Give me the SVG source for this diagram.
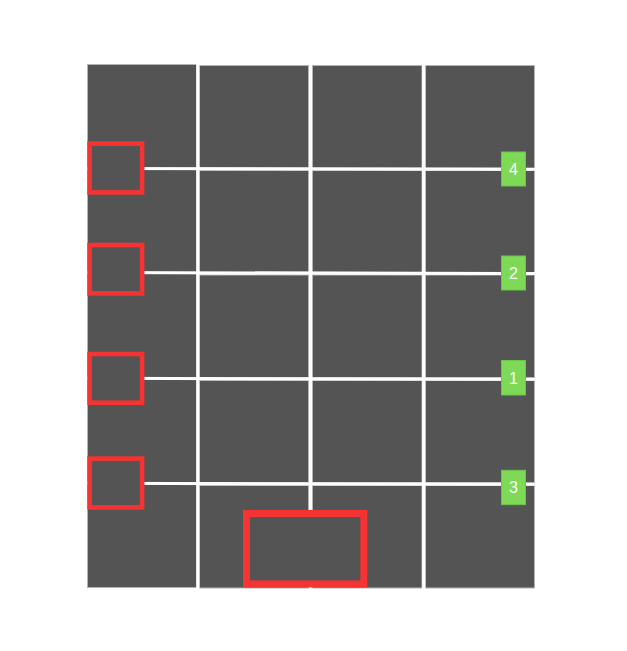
<svg xmlns="http://www.w3.org/2000/svg" width="627" height="651" viewBox="0 0 627 651">
<style>
.cell{fill:#545454;stroke:#b4b4b4;stroke-width:1}
.wl{stroke:#ffffff;stroke-width:3;fill:none}
.rb{fill:#545454;stroke:#f53333;stroke-width:4.6}
.gl{fill:#7ed957;stroke:#6cc54a;stroke-width:1}
.lt{font-family:"Liberation Sans",Arial,sans-serif;font-size:16px;fill:#ffffff;text-anchor:middle}
</style>
<rect width="627" height="651" fill="#ffffff"/>
<g id="grid">
<rect class="cell" x="87.5" y="64.5" width="109" height="523"/>
<rect class="cell" x="199.5" y="65.5" width="109" height="102.5"/>
<rect class="cell" x="312.5" y="65.5" width="109.5" height="102.5"/>
<rect class="cell" x="425.5" y="65.5" width="109" height="102.5"/>
<rect class="cell" x="199.5" y="170.5" width="109" height="102"/>
<rect class="cell" x="312.5" y="170.5" width="109.5" height="102"/>
<rect class="cell" x="425.5" y="170.5" width="109" height="102"/>
<rect class="cell" x="199.5" y="275" width="109" height="102.5"/>
<rect class="cell" x="312.5" y="275" width="109.5" height="102.5"/>
<rect class="cell" x="425.5" y="275" width="109" height="102.5"/>
<rect class="cell" x="199.5" y="380.5" width="109" height="102"/>
<rect class="cell" x="312.5" y="380.5" width="109.5" height="102"/>
<rect class="cell" x="425.5" y="380.5" width="109" height="102"/>
<rect class="cell" x="199.5" y="485.5" width="109" height="102.5"/>
<rect class="cell" x="312.5" y="485.5" width="109.5" height="102.5"/>
<rect class="cell" x="425.5" y="485.5" width="109" height="102.5"/>
<line class="wl" x1="197.8" y1="64" x2="197.8" y2="589"/>
<line class="wl" x1="310.5" y1="64" x2="310.5" y2="589"/>
<line class="wl" x1="423.7" y1="64" x2="423.7" y2="589"/>
</g>
<g id="connectors">
<line class="wl" x1="87" y1="168.6" x2="535" y2="169.3"/>
<line class="wl" x1="87" y1="272.5" x2="535" y2="273.5"/>
<line class="wl" x1="87" y1="378.3" x2="535" y2="379.2"/>
<line class="wl" x1="87" y1="483.3" x2="535" y2="484.3"/>
</g>
<g id="box1"><rect class="rb" x="89.6" y="143.6" width="52.5" height="48.8"/></g>
<g id="box2"><rect class="rb" x="89.6" y="245" width="52.5" height="48.4"/></g>
<g id="box3"><rect class="rb" x="89.6" y="354" width="52.5" height="48.7"/></g>
<g id="box4"><rect class="rb" x="89.6" y="458.6" width="52.5" height="48.8"/></g>
<g id="box5"><rect x="246.5" y="513.5" width="117.3" height="70.4" fill="#545454" stroke="#f53333" stroke-width="7"/></g>
<g id="label4"><rect class="gl" x="501.5" y="152" width="24" height="34"/><text class="lt" x="513.5" y="174.8">4</text></g>
<g id="label2"><rect class="gl" x="501.5" y="256" width="24" height="34"/><text class="lt" x="513.5" y="278.8">2</text></g>
<g id="label1"><rect class="gl" x="501.5" y="360.5" width="24" height="34.5"/><text class="lt" x="513.5" y="383.5">1</text></g>
<g id="label3"><rect class="gl" x="501.5" y="470.3" width="24" height="34.3"/><text class="lt" x="513.5" y="493.2">3</text></g>
</svg>
